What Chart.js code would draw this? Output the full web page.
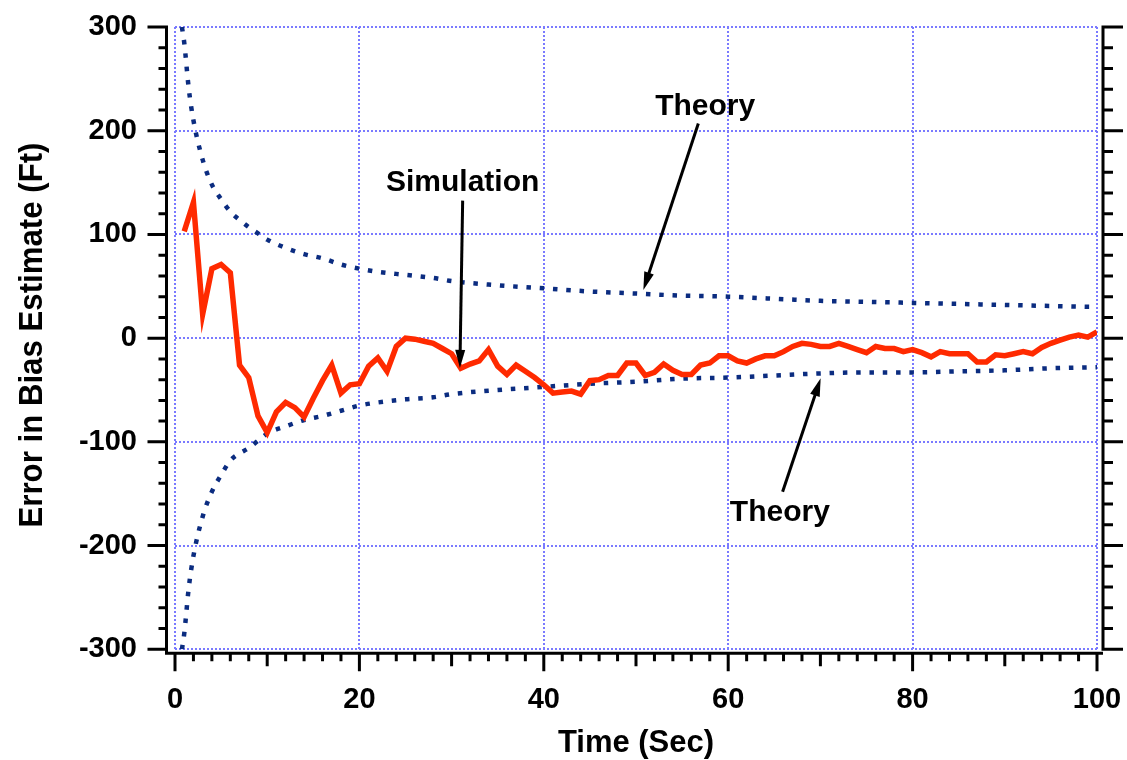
<!DOCTYPE html>
<html>
<head>
<meta charset="utf-8">
<script src="https://cdn.jsdelivr.net/npm/chart.js@4.4.1/dist/chart.umd.min.js"></script>
<style>
  html, body { margin: 0; padding: 0; background: #fff; }
  #wrap { width: 1127px; height: 760px; }
</style>
</head>
<body>
<div id="wrap"><canvas id="myChart" width="1127" height="760"></canvas></div>
<script>
// Simulation run, one sample per second
const simTime = [1, 2, 3, 4, 5, 6, 7, 8, 9, 10, 11, 12, 13, 14, 15, 16, 17, 18, 19, 20,
  21, 22, 23, 24, 25, 26, 27, 28, 29, 30, 31, 32, 33, 34, 35, 36, 37, 38, 39, 40,
  41, 42, 43, 44, 45, 46, 47, 48, 49, 50, 51, 52, 53, 54, 55, 56, 57, 58, 59, 60,
  61, 62, 63, 64, 65, 66, 67, 68, 69, 70, 71, 72, 73, 74, 75, 76, 77, 78, 79, 80,
  81, 82, 83, 84, 85, 86, 87, 88, 89, 90, 91, 92, 93, 94, 95, 96, 97, 98, 99, 100]
const simError = [103, 131, 23, 67, 71, 63, -26, -38, -75, -91, -71, -62, -67, -76, -58, -41, -26, -53, -45, -44,
  -27, -19, -32, -8, 0, -1, -3, -5, -10, -15, -29, -25, -22, -11, -27, -35, -26, -32, -38, -45,
  -53, -52, -51, -54, -41, -40, -36, -36, -24, -24, -36, -33, -25, -31, -35, -35, -26, -24, -17, -17,
  -22, -24, -20, -17, -17, -13, -8, -5, -6, -8, -8, -5, -8, -11, -14, -8, -10, -10, -13, -11,
  -14, -18, -13, -15, -15, -15, -23, -23, -16, -17, -15, -13, -15, -9, -5, -2, 1, 3, 1, 6]

// Theory bounds
const theoryTime = [0.75, 1, 1.5, 2, 3, 4, 5, 6, 7, 8, 9, 10, 12, 14, 16, 18, 20, 22, 25, 28,
  30, 35, 40, 45, 50, 55, 60, 65, 70, 75, 80, 85, 90, 95, 100]
const theoryUpper = [300, 285, 240, 210, 172, 148, 134, 122, 114, 107, 101, 95, 87, 81, 77, 71, 67, 64, 61, 58,
  55, 51, 48, 45, 43, 41, 40, 38, 36, 35, 34, 33, 32, 31, 30]
const theoryLower = [-300, -285, -240, -210, -172, -148, -132, -118, -111, -106, -99, -92, -85, -79, -75, -70, -65, -62, -59, -57,
  -54, -50, -47, -44, -42, -39, -38, -36, -34, -33, -33, -32, -31, -29, -28]

const xTicks = [0, 20, 40, 60, 80, 100]
const yTicks = [-300, -200, -100, 0, 100, 200, 300]

const FONT = "'Liberation Sans', Arial, Helvetica, sans-serif"

// text labels with arrows, in data units
const notes = [
  { text: 'Theory', at: [57.5, 215], tail: [56.76, 207], tip: [50.8, 46.5] },
  { text: 'Simulation', at: [31.2, 142], tail: [31.2, 132.6], tip: [30.9, -28.7] },
  { text: 'Theory', at: [65.6, -176.3], tail: [65.9, -148], tip: [70.03, -38.7] }
]

const toPoints = (xs, ys) => xs.map((v, i) => ({ x: v, y: ys[i] }))

const drawArrow = (ctx, x1, y1, x2, y2) => {
  const ang = Math.atan2(y2 - y1, x2 - x1)
  const headLen = 18, headW = 5
  ctx.beginPath()
  ctx.moveTo(x1, y1)
  ctx.lineTo(x2 - Math.cos(ang) * headLen * 0.8, y2 - Math.sin(ang) * headLen * 0.8)
  ctx.stroke()
  ctx.beginPath()
  ctx.moveTo(x2, y2)
  ctx.lineTo(x2 - Math.cos(ang) * headLen - Math.sin(ang) * headW, y2 - Math.sin(ang) * headLen + Math.cos(ang) * headW)
  ctx.lineTo(x2 - Math.cos(ang) * headLen + Math.sin(ang) * headW, y2 - Math.sin(ang) * headLen - Math.cos(ang) * headW)
  ctx.closePath()
  ctx.fill()
}

// black axis frame with ticks, titles and annotations
const axisFrame = {
  id: 'axisFrame',
  afterDraw(chart) {
    const { ctx, chartArea: a } = chart
    const x = chart.scales.x, y = chart.scales.y
    const leftX = a.left - 8.5, rightX = a.right + 6, baseY = a.bottom + 4

    ctx.save()
    ctx.strokeStyle = '#000'
    ctx.fillStyle = '#000'
    ctx.lineWidth = 3
    ctx.lineCap = 'butt'
    ctx.beginPath()
    ctx.moveTo(leftX, a.top - 1.5)
    ctx.lineTo(leftX, baseY + 1.5)
    ctx.moveTo(leftX - 1.5, baseY)
    ctx.lineTo(rightX, baseY)
    ctx.moveTo(rightX, a.top - 1.5)
    ctx.lineTo(rightX, a.bottom + 1.5)
    for (let v = -300; v <= 300; v += 20) {
      const py = y.getPixelForValue(v)
      const major = v % 100 === 0
      ctx.moveTo(leftX - (major ? 19 : 8), py)
      ctx.lineTo(leftX, py)
      ctx.moveTo(rightX, py)
      ctx.lineTo(rightX + (major ? 20 : 10), py)
    }
    for (let t = 0; t <= 100; t += 2) {
      const px = x.getPixelForValue(t)
      const len = t % 20 === 0 ? 18 : (t % 10 === 0 ? 13 : 8)
      ctx.moveTo(px, baseY)
      ctx.lineTo(px, baseY + len)
    }
    ctx.stroke()

    // axis titles
    ctx.textAlign = 'center'
    ctx.textBaseline = 'alphabetic'
    ctx.font = 'bold 31px ' + FONT
    ctx.fillText('Time (Sec)', (a.left + a.right) / 2, 752)
    ctx.save()
    ctx.translate(42, 335)
    ctx.rotate(-Math.PI / 2)
    ctx.font = 'bold 33px ' + FONT
    ctx.fillText('Error in Bias Estimate (Ft)', 0, 0, 385)
    ctx.restore()

    // annotations
    ctx.font = 'bold 30px ' + FONT
    notes.forEach(n => {
      ctx.fillText(n.text, x.getPixelForValue(n.at[0]), y.getPixelForValue(n.at[1]))
      drawArrow(ctx,
        x.getPixelForValue(n.tail[0]), y.getPixelForValue(n.tail[1]),
        x.getPixelForValue(n.tip[0]), y.getPixelForValue(n.tip[1]))
    })
    ctx.restore()
  }
}

const canvas = document.getElementById('myChart')

const config = {
  type: 'line',
  data: {
    datasets: [
      {
        label: 'Simulation',
        data: toPoints(simTime, simError),
        borderColor: '#ff2a00',
        borderWidth: 5.5,
        pointRadius: 0,
        tension: 0,
        order: 0
      },
      {
        label: 'Theory upper',
        data: toPoints(theoryTime, theoryUpper),
        borderColor: '#0b2c80',
        borderWidth: 4.5,
        borderDash: [4.5, 8.8],
        borderCapStyle: 'butt',
        pointRadius: 0,
        cubicInterpolationMode: 'monotone',
        order: 1
      },
      {
        label: 'Theory lower',
        data: toPoints(theoryTime, theoryLower),
        borderColor: '#0b2c80',
        borderWidth: 4.5,
        borderDash: [4.5, 8.8],
        borderCapStyle: 'butt',
        pointRadius: 0,
        cubicInterpolationMode: 'monotone',
        order: 1
      }
    ]
  },
  options: {
    responsive: false,
    animation: false,
    devicePixelRatio: 1,
    layout: { padding: { top: 27, right: 30, bottom: 0, left: 0 } },
    plugins: {
      legend: { display: false },
      tooltip: { enabled: false }
    },
    scales: {
      x: {
        type: 'linear',
        min: 0,
        max: 100,
        afterFit: (scale) => {
          scale.height = 110.7
          scale.paddingLeft = 0
          scale.paddingRight = 0
        },
        afterBuildTicks: (scale) => { scale.ticks = xTicks.map(v => ({ value: v })) },
        ticks: {
          color: '#000',
          font: { family: FONT, size: 29, weight: 'bold' },
          padding: 33,
          maxRotation: 0
        },
        grid: {
          color: '#7a7aff',
          lineWidth: 2,
          drawTicks: false,
          borderDash: [2, 2]
        },
        border: { display: false, dash: [2, 2] }
      },
      y: {
        min: -300,
        max: 300,
        afterFit: (scale) => {
          scale.width = 175
          scale.paddingTop = 0
          scale.paddingBottom = 0
        },
        afterBuildTicks: (scale) => { scale.ticks = yTicks.map(v => ({ value: v })) },
        ticks: {
          color: '#000',
          font: { family: FONT, size: 29, weight: 'bold' },
          padding: 38
        },
        grid: {
          color: '#7a7aff',
          lineWidth: 2,
          drawTicks: false,
          borderDash: [2, 2]
        },
        border: { display: false, dash: [2, 2] }
      }
    }
  },
  plugins: [axisFrame]
}

new Chart(canvas, config)
</script>
</body>
</html>
